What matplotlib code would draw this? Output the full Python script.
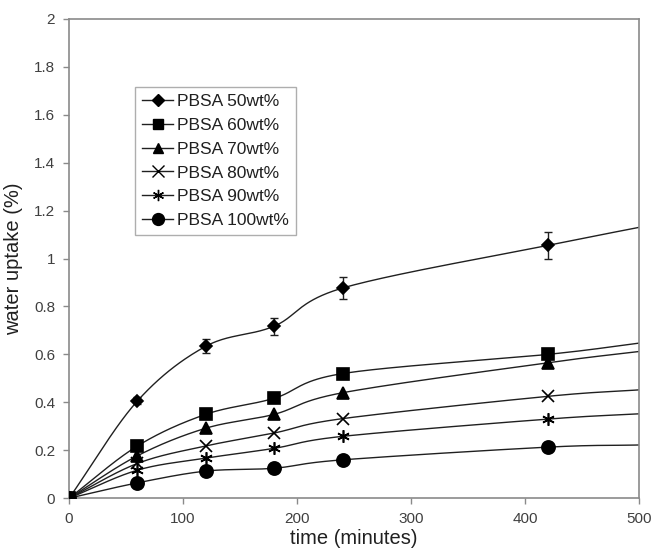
import numpy as np
import matplotlib.pyplot as plt

plt.rcParams['font.family'] = ['Liberation Sans', 'DejaVu Sans']

# sampling times (min); the last point only carries the line out to the axis edge
time = [0, 60, 120, 180, 240, 420, 500]

pbsa_50 = [0, 0.406, 0.634, 0.718, 0.877, 1.055, 1.13]
pbsa_60 = [0, 0.218, 0.350, 0.417, 0.520, 0.600, 0.647]
pbsa_70 = [0, 0.177, 0.292, 0.350, 0.440, 0.565, 0.612]
pbsa_80 = [0, 0.145, 0.218, 0.272, 0.332, 0.425, 0.452]
pbsa_90 = [0, 0.117, 0.167, 0.208, 0.258, 0.330, 0.352]
pbsa_100 = [0, 0.064, 0.113, 0.125, 0.160, 0.213, 0.222]

err_50 = [0, 0.015, 0.03, 0.035, 0.045, 0.055]
err_60 = [0, 0, 0, 0, 0, 0.02]

labels = ['PBSA 50wt%', 'PBSA 60wt%', 'PBSA 70wt%',
          'PBSA 80wt%', 'PBSA 90wt%', 'PBSA 100wt%']


def smooth(x, y, n=40):
    # Catmull-Rom curve through the points, like a spreadsheet "smoothed line"
    x = np.asarray(x, float)
    y = np.asarray(y, float)
    px = np.concatenate([[2 * x[0] - x[1]], x, [2 * x[-1] - x[-2]]])
    py = np.concatenate([[2 * y[0] - y[1]], y, [2 * y[-1] - y[-2]]])
    xs, ys = [], []
    t = np.linspace(0, 1, n)
    for i in range(1, len(px) - 2):
        for p, out in ((px, xs), (py, ys)):
            p0, p1, p2, p3 = p[i - 1], p[i], p[i + 1], p[i + 2]
            out.extend(0.5 * ((2 * p1) + (-p0 + p2) * t +
                              (2 * p0 - 5 * p1 + 4 * p2 - p3) * t ** 2 +
                              (-p0 + 3 * p1 - 3 * p2 + p3) * t ** 3))
    return np.array(xs), np.array(ys)


fig = plt.figure(figsize=(6.52, 5.56), dpi=100)
ax = fig.add_axes([0.106, 0.104, 0.874, 0.862])

series = [pbsa_50, pbsa_60, pbsa_70, pbsa_80, pbsa_90, pbsa_100]
markers = ['D', 's', '^', 'x', (6, 2, 0), 'o']
sizes = [6.5, 8.5, 8.5, 9, 9, 9.5]

for vals, m, ms, lab in zip(series, markers, sizes, labels):
    sx, sy = smooth(time, vals)
    ax.plot(sx, sy, color='#202020', lw=1.0, zorder=2)
    ax.plot(time[:-1], vals[:-1], linestyle='none', marker=m, ms=ms,
            color='black', mew=1.2, zorder=3)
    # legend proxy: line with marker
    ax.plot([], [], color='#202020', lw=1.0, marker=m, ms=ms * 0.9,
            mfc='black', mec='black', mew=1.0, label=lab)

ax.errorbar(time[:-1], pbsa_50[:-1], yerr=err_50, fmt='none', ecolor='#202020',
            elinewidth=1.0, capsize=3, zorder=2)
ax.errorbar(time[:-1], pbsa_60[:-1], yerr=err_60, fmt='none', ecolor='#202020',
            elinewidth=1.0, capsize=3, zorder=2)

ax.set_xlim(0, 500)
ax.set_ylim(0, 2)
ax.set_xticks(np.arange(0, 501, 100))
ax.set_yticks(np.arange(0, 2.01, 0.2))
ax.set_yticklabels(['0', '0.2', '0.4', '0.6', '0.8', '1', '1.2', '1.4', '1.6', '1.8', '2'])

for s in ax.spines.values():
    s.set_color('#8a8a8a')
    s.set_linewidth(1.2)
ax.tick_params(direction='out', length=4, width=1.0, color='#8a8a8a',
               labelsize=11, labelcolor='#404040', pad=6)

ax.set_xlabel('time (minutes)', fontsize=14.5, color='#202020', labelpad=2)
ax.set_ylabel('water uptake (%)', fontsize=14.5, color='#202020', labelpad=8)

leg = ax.legend(loc='upper left', bbox_to_anchor=(0.116, 0.858), fontsize=12.5,
                frameon=True, fancybox=False, handlelength=1.8,
                handletextpad=0.2, labelspacing=0.5, borderpad=0.4,
                borderaxespad=0)
leg.get_frame().set_edgecolor('#9a9a9a')
leg.get_frame().set_linewidth(1.0)
for t in leg.get_texts():
    t.set_color('#202020')

fig.savefig('out.png', dpi=100)
